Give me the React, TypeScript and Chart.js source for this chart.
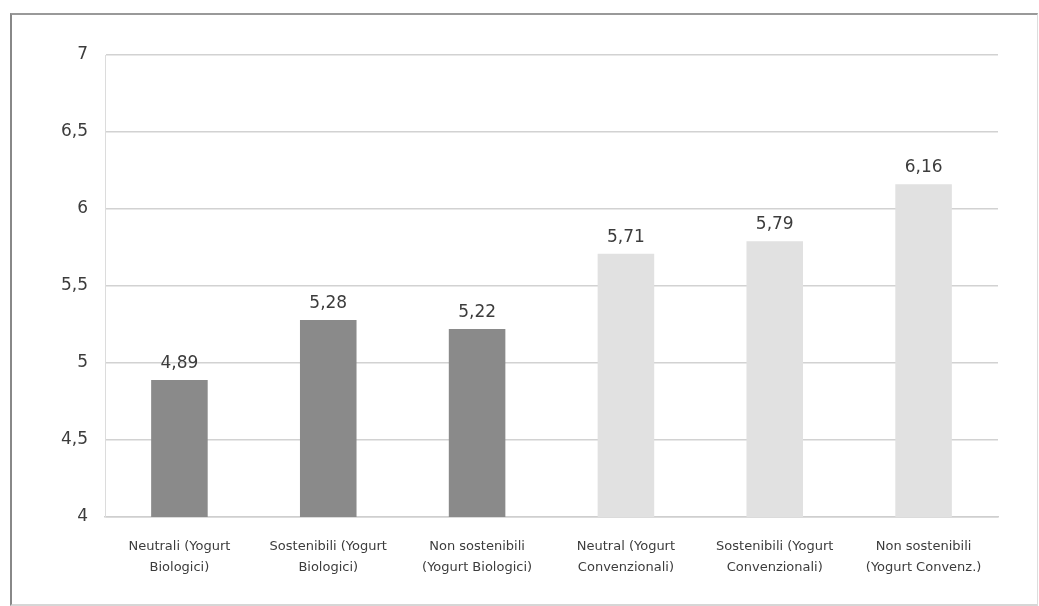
import React, { useEffect, useRef } from "react";
import { Chart, registerables } from "chart.js";

Chart.register(...registerables);

// Categories (two-line tick labels)
const categories: string[][] = [
  ["Neutrali (Yogurt", "Biologici)"],
  ["Sostenibili (Yogurt", "Biologici)"],
  ["Non sostenibili", "(Yogurt Biologici)"],
  ["Neutral (Yogurt", "Convenzionali)"],
  ["Sostenibili (Yogurt", "Convenzionali)"],
  ["Non sostenibili", "(Yogurt Convenz.)"],
];

// Mean scores per category
const values: number[] = [4.89, 5.28, 5.22, 5.71, 5.79, 6.16];

// Bar fill: organic yogurt in dark grey, conventional in light grey
const barColors: string[] = ["#8a8a8a", "#8a8a8a", "#8a8a8a", "#e1e1e1", "#e1e1e1", "#e1e1e1"];

// Y axis range
const yMin = 4;
const yMax = 7;
const yStep = 0.5;

const FONT = "'DejaVu Sans', sans-serif";

const fmt = (v: number, digits: number) =>
  v.toFixed(digits).replace(".", ",");

const valueLabels = {
  id: "valueLabels",
  afterDatasetsDraw(chart: any) {
    const { ctx } = chart;
    const meta = chart.getDatasetMeta(0);
    ctx.save();
    ctx.font = `17px ${FONT}`;
    ctx.fillStyle = "#3c3c3c";
    ctx.textAlign = "center";
    ctx.textBaseline = "bottom";
    meta.data.forEach((bar: any, i: number) => {
      ctx.fillText(fmt(values[i], 2), bar.x, bar.y - 8);
    });
    ctx.restore();
  },
};

export default function App() {
  const canvasRef = useRef<HTMLCanvasElement | null>(null);

  useEffect(() => {
    document.body.style.margin = "0";
    const canvas = canvasRef.current;
    if (!canvas) return;
    const chart = new Chart(canvas, {
      type: "bar",
      data: {
        labels: categories,
        datasets: [
          {
            data: values,
            backgroundColor: barColors,
            borderWidth: 0,
            barPercentage: 0.76,
            categoryPercentage: 0.5,
          },
        ],
      },
      options: {
        animation: false,
        responsive: false,
        maintainAspectRatio: false,
        layout: { padding: { left: 0, right: 41, top: 55, bottom: 0 } },
        plugins: {
          legend: { display: false },
          tooltip: { enabled: false },
        },
        scales: {
          x: {
            afterFit: (scale: any) => {
              scale.height = 89;
            },
            grid: { display: false, drawTicks: false },
            border: { display: true, color: "#cfcfcf", width: 1.5 },
            ticks: {
              padding: 19,
              color: "#3c3c3c",
              font: { family: FONT, size: 13, lineHeight: 1.6 },
              maxRotation: 0,
              autoSkip: false,
            },
          },
          y: {
            min: yMin,
            max: yMax,
            afterFit: (scale: any) => {
              scale.width = 105;
            },
            grid: { color: "#d2d2d2", lineWidth: 1.5, drawTicks: false },
            border: { display: true, color: "#dcdcdc", width: 1 },
            ticks: {
              stepSize: yStep,
              padding: 17,
              color: "#3c3c3c",
              font: { family: FONT, size: 17 },
              callback: (v: any) => (Number.isInteger(v) ? String(v) : fmt(Number(v), 1)),
            },
          },
        },
      },
      plugins: [valueLabels],
    });
    return () => chart.destroy();
  }, []);

  return (
    <div style={{ position: "relative", width: 1039, height: 606, background: "#ffffff" }}>
      <div
        style={{
          position: "absolute",
          left: 10,
          top: 13,
          width: 1025,
          height: 589,
          borderLeft: "2px solid #888888",
          borderTop: "2px solid #999999",
          borderRight: "1px solid #dddddd",
          borderBottom: "2px solid #d6d6d6",
        }}
      />
      <canvas
        ref={canvasRef}
        width={1039}
        height={606}
        style={{ position: "absolute", left: 0, top: 0 }}
      />
    </div>
  );
}
